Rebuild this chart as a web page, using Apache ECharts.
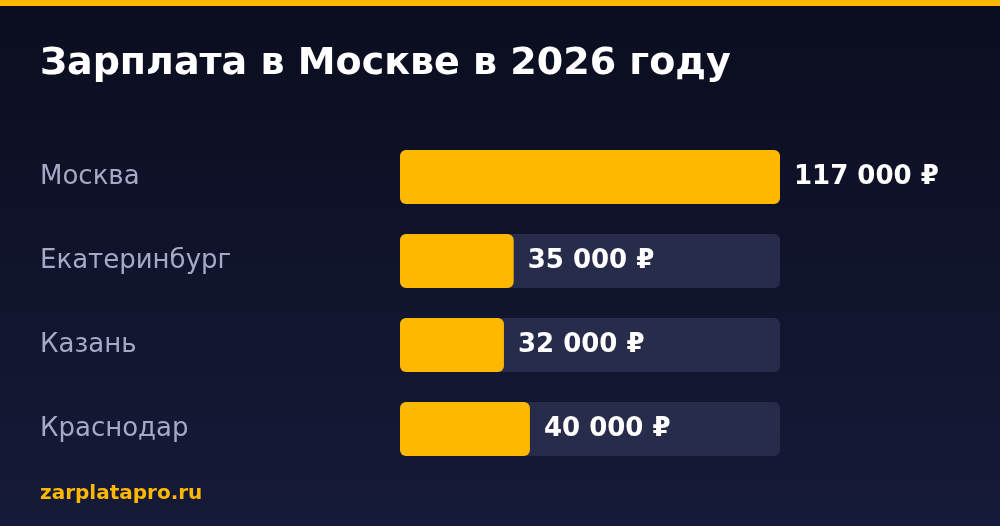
<!DOCTYPE html>
<html>
<head>
<meta charset="utf-8">
<script src="https://cdn.jsdelivr.net/npm/echarts@6/dist/echarts.min.js"></script>
<style>
html,body{margin:0;padding:0;background:#0b0d1f;}
#c{width:1000px;height:526px;}
</style>
</head>
<body>
<div id="c"></div>
<script>
const titleText = "Зарплата в Москве в 2026 году";
const footerText = "zarplatapro.ru";
const cities = ["Москва", "Екатеринбург", "Казань", "Краснодар"];
const salaries = [117000, 35000, 32000, 40000];
const axisMax = 117000;

function fmt(v) {
  return String(v).replace(/\B(?=(\d{3})+(?!\d))/g, " ") + " ₽";
}

const chart = echarts.init(document.getElementById('c'), null, {renderer: 'canvas'});
chart.setOption({
  animation: false,
  backgroundColor: {
    type: 'linear', x: 0, y: 0, x2: 0, y2: 1,
    colorStops: [{offset: 0, color: '#0b0d1f'}, {offset: 1, color: '#151a38'}]
  },
  textStyle: {fontFamily: 'DejaVu Sans'},
  graphic: [
    {type: 'rect', left: 0, top: 0, shape: {width: 1000, height: 6}, style: {fill: '#ffb800'}},
    {type: 'text', left: 40, top: 45, style: {text: titleText, fill: '#ffffff', font: 'bold 38px "DejaVu Sans"'}},
    {type: 'text', left: 40, top: 484, style: {text: footerText, fill: '#ffb800', font: 'bold 20px "DejaVu Sans"'}}
  ],
  grid: {left: 400, right: 220, top: 135, bottom: 55, containLabel: false},
  xAxis: {type: 'value', min: 0, max: axisMax, show: false},
  yAxis: {
    type: 'category', data: cities, inverse: true,
    axisLine: {show: false}, axisTick: {show: false},
    axisLabel: {
      align: 'left', margin: 360, color: '#a6a9c6',
      fontSize: 26, fontFamily: 'DejaVu Sans', padding: [6, 0, 0, 0]
    }
  },
  series: [{
    type: 'bar', data: salaries, barWidth: 54,
    itemStyle: {color: '#ffb800', borderRadius: 6},
    showBackground: true,
    backgroundStyle: {color: '#272c4a', borderRadius: 6},
    label: {
      show: true, position: 'right', distance: 14,
      formatter: p => fmt(p.value), padding: [5, 0, 0, 0],
      color: '#ffffff', fontSize: 26, fontWeight: 'bold', fontFamily: 'DejaVu Sans'
    }
  }]
});
</script>
</body>
</html>
